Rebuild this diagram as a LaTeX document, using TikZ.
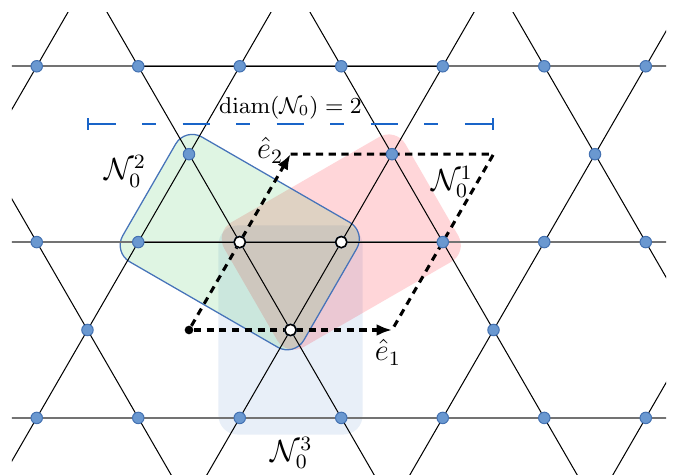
\documentclass[tikz,border=0pt]{standalone}
\usepackage{amsmath,amssymb}
\usepackage{tikz}
\usetikzlibrary{arrows.meta,calc}
\definecolor{sitefill}{RGB}{106,152,208}
\definecolor{siteedge}{RGB}{68,114,178}
\definecolor{nbgreen}{RGB}{40,190,70}
\definecolor{nbred}{RGB}{255,14,31}
\definecolor{nbblue}{RGB}{25,95,185}
\definecolor{rimblue}{RGB}{70,115,185}
\definecolor{diamblue}{RGB}{25,100,200}

\begin{document}
\begin{tikzpicture}[x=1.4cm,y=1.4cm,
    bond/.style={black,line width=0.4pt},
    rowline/.style={black!55,line width=0.8pt},
    site/.style={circle,fill=sitefill,draw=siteedge,line width=0.4pt,inner sep=0pt,minimum size=4.5pt},
    hole/.style={circle,fill=white,draw=black,line width=0.6pt,inner sep=0pt,minimum size=4.4pt},
    vec/.style={line width=1.2pt,dash pattern=on 2.8pt off 2.2pt,-{Latex[length=6pt,width=4.6pt]}},
    cellside/.style={line width=1.2pt,dash pattern=on 2.8pt off 2.2pt},
    region/.style={rounded corners=7.5pt},
    lbl/.style={font=\large}]
  \useasboundingbox (-1.862,-1.419) rectangle (4.778,3.251);
  % neighbourhoods
  \coordinate (c2) at (0.5,{sqrt(3)/2});
  \coordinate (c1) at (1.5,{sqrt(3)/2});
  \coordinate (c3) at (1,0);
  \fill[region,nbblue,fill opacity=0.1]
    ($(c3)+(-0.71,-1.03)$) rectangle ($(c3)+(0.71,1.03)$);
  \fill[region,nbred,fill opacity=0.17,rotate around={30:(c1)}]
    ($(c1)+(-1.03,-0.71)$) rectangle ($(c1)+(1.03,0.71)$);
  \fill[region,nbgreen,fill opacity=0.15,rotate around={-30:(c2)}]
    ($(c2)+(-1.03,-0.71)$) rectangle ($(c2)+(1.03,0.71)$);
  \draw[region,rimblue,line width=0.5pt,rotate around={-30:(c2)}]
    ($(c2)+(-1.03,-0.71)$) rectangle ($(c2)+(1.03,0.71)$);
  % kagome lines
  \begin{scope}
    \clip (-1.744,-1.5) rectangle (4.70,3.123);
    \foreach \r in {-1,0,1}
      \draw[rowline] (-2,{sqrt(3)/2+\r*sqrt(3)}) -- (5,{sqrt(3)/2+\r*sqrt(3)});
    \foreach \r in {0,1}
      \draw[bond] (-0.5,{sqrt(3)/2+\r*sqrt(3)}) -- (2.5,{sqrt(3)/2+\r*sqrt(3)});
    \foreach \c in {-3,-1,...,7} {
      \draw[bond] ({\c-1.7/sqrt(3)},-1.7) -- ({\c+3.4/sqrt(3)},3.4);
      \draw[bond] ({\c+1.7/sqrt(3)},-1.7) -- ({\c-3.4/sqrt(3)},3.4);
    }
  \end{scope}
  % unit cell
  \node[circle,fill=black,inner sep=0pt,minimum size=3.4pt] (O) at (0,0) {};
  \coordinate (E1) at (2,0);
  \coordinate (E2) at (1,{sqrt(3)});
  \coordinate (E12) at (3,{sqrt(3)});
  \draw[cellside] (E2) -- (E12) -- (E1);
  \draw[vec] (O) -- (E1);
  \draw[vec] (O) -- (E2);
  % sites
  \foreach \r in {-1,0,1}
    \foreach \i [count=\k] in {-3,-1,...,9}
      \node[site] (s\r\k) at ({\i/2},{sqrt(3)/2+\r*sqrt(3)}) {};
  \foreach \i [count=\k] in {-1,1,3}
    \node[site] (m\k) at (\i,0) {};
  \foreach \i [count=\k] in {0,2,4}
    \node[site] (u\k) at (\i,{sqrt(3)}) {};
  \node[hole] (w1) at (0.5,{sqrt(3)/2}) {};
  \node[hole] (w2) at (1.5,{sqrt(3)/2}) {};
  \node[hole] (w3) at (1,0) {};
  % diameter
  \coordinate (d1) at (-1,2.03);
  \coordinate (d2) at (3,2.03);
  \draw[diamblue,line width=0.6pt,dash pattern=on 10.6pt off 10.4pt on 5.5pt off 10.4pt,
    {Bar[width=4.6pt]}-{Bar[width=4.6pt]}] (d1) -- (d2);
  \node[font=\small] (dm) at (1.0,2.19) {$\mathrm{diam}(\mathcal{N}_0) = 2$};
  % labels
  \node[lbl] (le1) at (1.96,-0.22) {$\hat{e}_1$};
  \node[lbl] (le2) at (0.80,1.77) {$\hat{e}_2$};
  \node[lbl] (n1) at (2.59,1.46) {$\mathcal{N}_0^1$};
  \node[lbl] (n2) at (-0.63,1.56) {$\mathcal{N}_0^2$};
  \node[lbl] (n3) at (1.01,-1.21) {$\mathcal{N}_0^3$};
\end{tikzpicture}
\end{document}
